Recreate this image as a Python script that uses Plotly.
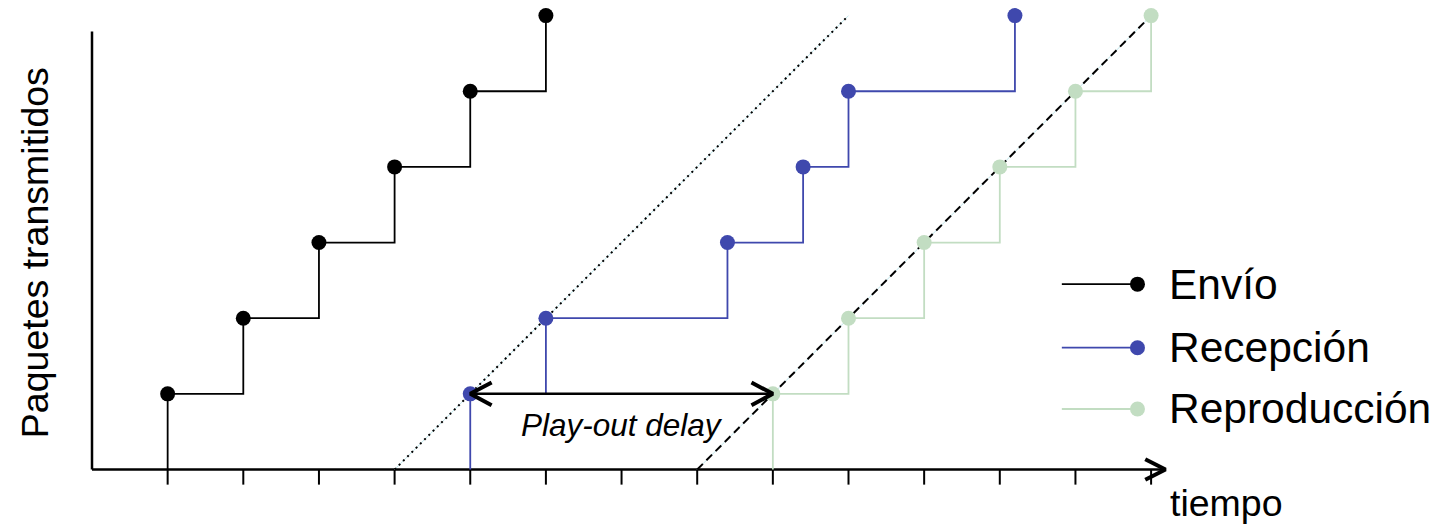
import math
import plotly.graph_objects as go

# ---- data ----
levels = [1, 2, 3, 4, 5, 6]
envio_t = [1, 2, 3, 4, 5, 6]
recepcion_t = [5, 6, 8.4, 9.4, 10, 12.2]
reproduccion_t = [9, 10, 11, 12, 13, 14]
ticks_t = list(range(1, 15))
net_delay_start = 4      # dotted line y = t - 4
playout_start = 8        # dashed line y = t - 8
series_names = ["Envío", "Recepción", "Reproducción"]
series_colors = ["#000000", "#3F48AD", "#C2DDC2"]

# ---- pixel geometry helpers (page body has an 8px margin) ----
W, H = 1439, 525
X0, Y0, S = 92.0 - 8, 469.5 - 8, 75.65
xr = [-X0 / S, (W - X0) / S]
yr = [-(H - Y0) / S, Y0 / S]

fig = go.Figure()

def line(xs, ys, color, width, dash=None, shape="linear"):
    fig.add_trace(go.Scatter(x=xs, y=ys, mode="lines", hoverinfo="skip",
                             showlegend=False,
                             line=dict(color=color, width=width, dash=dash, shape=shape)))

def chevron(tx, ty, direction, L=0.32, ang=28):
    a = math.radians(ang)
    dx = L * math.cos(a) * (-direction)
    dy = L * math.sin(a)
    line([tx + dx, tx, tx + dx], [ty + dy, ty, ty - dy], "black", 4)

# axes
ytop = 5.79
xend = 14.19
line([0, 0], [ytop, 0], "black", 2.5)
line([0, xend], [0, 0], "black", 2.5)
chevron(xend, 0, +1, L=0.3, ang=27)
tx, ty = [], []
for t in ticks_t:
    tx += [t, t, None]
    ty += [0, -0.2, None]
line(tx, ty, "black", 2)

# delay reference lines
top = levels[-1]
for off, dash in [(net_delay_start, "2px,4px"), (playout_start, "8px,5px")]:
    line([off, off + top], [0, top], "#BFE6EC", 1)
    line([off, off + top], [0, top], "black", 2, dash=dash)

# step series
for tvals, col in zip([envio_t, recepcion_t, reproduccion_t], series_colors):
    line([tvals[0]] + tvals, [0] + levels, col, 1.8, shape="hv")
    fig.add_trace(go.Scatter(x=tvals, y=levels, mode="markers", hoverinfo="skip",
                             showlegend=False,
                             marker=dict(color=col, size=15, line=dict(width=0))))

# play-out delay double arrow
ax0, ax1 = recepcion_t[0], reproduccion_t[0]
line([ax0, ax1], [levels[0], levels[0]], "black", 2.5)
chevron(ax0, levels[0], -1)
chevron(ax1, levels[0], +1)

fig.add_annotation(x=(ax0 + ax1) / 2, y=0.59, text="<i>Play-out delay</i>",
                   showarrow=False, font=dict(size=31.5, color="black"))
fig.add_annotation(x=15.0, y=-0.44, text="tiempo", showarrow=False,
                   font=dict(size=37.5, color="black"))
fig.add_annotation(x=-0.753, y=2.86, text="Paquetes transmitidos", showarrow=False,
                   textangle=-90, font=dict(size=37.5, color="black"))

# manual legend
leg_y = [2.45, 1.61, 0.80]
for name, col, yy in zip(series_names, series_colors, leg_y):
    fig.add_trace(go.Scatter(x=[12.82, 13.82], y=[yy, yy], mode="lines", hoverinfo="skip",
                             showlegend=False, line=dict(color=col, width=1.8)))
    fig.add_trace(go.Scatter(x=[13.82], y=[yy], mode="markers", hoverinfo="skip",
                             showlegend=False, marker=dict(color=col, size=15)))
    fig.add_annotation(x=14.21, y=yy, text=name, showarrow=False, xanchor="left",
                       font=dict(size=42.5, color="black"))

fig.update_layout(
    width=W, height=H,
    margin=dict(l=0, r=0, t=0, b=0),
    paper_bgcolor="white", plot_bgcolor="white",
    font=dict(family="Liberation Sans, Arial, sans-serif"),
    xaxis=dict(range=xr, visible=False, fixedrange=True),
    yaxis=dict(range=yr, visible=False, fixedrange=True),
    showlegend=False,
)
fig.write_html("out.html")
